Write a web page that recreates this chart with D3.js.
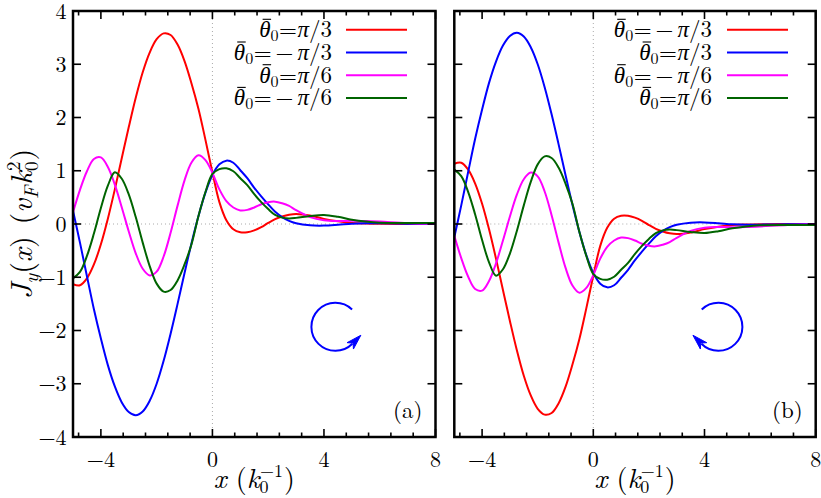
<!DOCTYPE html>
<html><head><meta charset="utf-8">
<script src="https://cdn.jsdelivr.net/npm/d3@7"></script>
<style>
body{margin:0;background:#fff}
svg{display:block}
</style>
</head><body>
<svg id="c" width="821" height="498"></svg>
<script>
// ---------- data ----------
const xValues = [-5,-4.75,-4.5,-4.25,-4,-3.75,-3.5,-3.25,-3,-2.75,-2.5,-2.25,-2,-1.75,-1.5,-1.25,-1,-0.75,-0.5,-0.25,0,0.25,0.5,0.75,1,1.25,1.5,1.75,2,2.25,2.5,2.75,3,3.5,4,4.5,5,5.5,6,7,8];

// panel (a)
const redA     = [-1.13,-1.15,-1.02,-0.76,-0.38,0.10,0.65,1.24,1.82,2.37,2.85,3.22,3.47,3.58,3.55,3.37,3.06,2.64,2.16,1.58,0.97,0.41,0.07,-0.10,-0.155,-0.155,-0.12,-0.06,0.02,0.09,0.14,0.175,0.19,0.16,0.095,0.05,0.02,0.01,0.005,0,0];
const blueA    = [0.25,-0.35,-0.98,-1.60,-2.15,-2.65,-3.05,-3.35,-3.53,-3.59,-3.52,-3.32,-3.00,-2.57,-2.06,-1.50,-0.92,-0.36,0.15,0.59,0.92,1.12,1.19,1.15,1.01,0.86,0.68,0.52,0.37,0.23,0.13,0.06,0.015,-0.025,-0.03,-0.015,0.005,0.012,0.012,0.005,0];
const magentaA = [0.22,0.64,0.99,1.22,1.25,1.07,0.74,0.31,-0.14,-0.55,-0.84,-0.965,-0.895,-0.61,-0.165,0.345,0.82,1.155,1.29,1.2,0.96,0.65,0.43,0.31,0.255,0.265,0.31,0.37,0.41,0.42,0.39,0.34,0.26,0.13,0.07,0.055,0.06,0.055,0.045,0.02,0.005];
const greenA   = [-1.02,-0.90,-0.60,-0.18,0.30,0.72,0.97,0.85,0.555,0.13,-0.35,-0.79,-1.12,-1.27,-1.24,-1.06,-0.76,-0.38,0.15,0.60,0.94,1.03,1.045,0.99,0.86,0.73,0.56,0.41,0.28,0.17,0.12,0.105,0.115,0.15,0.17,0.135,0.08,0.045,0.025,0.02,0.02];

// panel (b)
const redB     = [1.13,1.15,1.02,0.76,0.38,-0.10,-0.65,-1.24,-1.82,-2.37,-2.85,-3.22,-3.47,-3.58,-3.55,-3.37,-3.06,-2.64,-2.16,-1.58,-0.97,-0.41,-0.07,0.10,0.155,0.155,0.12,0.06,-0.02,-0.09,-0.14,-0.175,-0.19,-0.16,-0.095,-0.05,-0.02,-0.01,-0.005,0,0];
const blueB    = [-0.25,0.35,0.98,1.60,2.15,2.65,3.05,3.35,3.53,3.59,3.52,3.32,3.00,2.57,2.06,1.50,0.92,0.36,-0.15,-0.59,-0.92,-1.12,-1.19,-1.15,-1.01,-0.86,-0.68,-0.52,-0.37,-0.23,-0.13,-0.06,-0.015,0.025,0.03,0.015,-0.005,-0.012,-0.012,-0.005,0];
const magentaB = [-0.22,-0.64,-0.99,-1.22,-1.25,-1.07,-0.74,-0.31,0.14,0.55,0.84,0.965,0.895,0.61,0.165,-0.345,-0.82,-1.155,-1.29,-1.2,-0.96,-0.65,-0.43,-0.31,-0.255,-0.265,-0.31,-0.37,-0.41,-0.42,-0.39,-0.34,-0.26,-0.13,-0.07,-0.055,-0.06,-0.055,-0.045,-0.02,-0.005];
const greenB   = [1.02,0.90,0.60,0.18,-0.30,-0.72,-0.97,-0.85,-0.555,-0.13,0.35,0.79,1.12,1.27,1.24,1.06,0.76,0.38,-0.15,-0.60,-0.94,-1.03,-1.045,-0.99,-0.86,-0.73,-0.56,-0.41,-0.28,-0.17,-0.12,-0.105,-0.115,-0.15,-0.17,-0.135,-0.08,-0.045,-0.025,-0.02,-0.02];

const seriesColors = ["#ff0000","#0000ff","#ff00ff","#006400"];
const legendA = ["π/3","−π/3","π/6","−π/6"];
const legendB = ["−π/3","π/3","−π/6","π/6"];
const xTickLabels = [-4,0,4,8];
const yTickLabels = [-4,-3,-2,-1,0,1,2,3,4];
const panelTags = ["(a)","(b)"];

// ---------- drawing ----------
const FONT = "Latin Modern Roman";
const GREEK = "Liberation Serif";
const svg = d3.select("#c");
const TOP = 11, BOTTOM = 437;
const y = d3.scaleLinear().domain([-4,4]).range([BOTTOM,TOP]);

const panels = [
  {x0:73,   x1:435.5, series:[redA,blueA,magentaA,greenA], legend:legendA, tag:panelTags[0], yLabels:true,  ccw:true,  arrowAt:[4.41,-1.93], legRight:332, legLine:346},
  {x0:454.3,x1:815.7, series:[redB,blueB,magentaB,greenB], legend:legendB, tag:panelTags[1], yLabels:false, ccw:false, arrowAt:[4.5,-1.93],  legRight:712, legLine:727}
];

// parts: {t, i (italic), off (px baseline offset, + = down), fs (size), dx, ff}
function rich(sel, parts){
  let shift = 0;
  parts.forEach(p=>{
    const target = p.off || 0;
    const ts = sel.append("tspan").text(p.t);
    if (target-shift !== 0) ts.attr("dy", target-shift);
    if (p.dx) ts.attr("dx", p.dx);
    if (p.fs) ts.attr("font-size", p.fs);
    if (p.i) ts.attr("font-style","italic");
    if (p.ff) ts.attr("font-family", p.ff);
    shift = target;
  });
}

function legendParts(lbl){
  const neg = lbl.startsWith("−");
  const rest = neg ? lbl.slice(1) : lbl;
  const parts = [{t:"θ", i:true, ff:GREEK},{t:"0",off:4,fs:16},{t:"=",dx:0.5}];
  if (neg) parts.push({t:"−",dx:4});
  parts.push({t:"π", i:true, ff:GREEK, dx: neg?4:0.5},{t:rest.slice(1)});
  return parts;
}

function numLabel(v){ return v<0 ? "−"+Math.abs(v) : String(v); }

panels.forEach((P,pi)=>{
  const x = d3.scaleLinear().domain([-5,8]).range([P.x0,P.x1]);
  const g = svg.append("g");
  const clipId = "clip"+pi;
  svg.append("clipPath").attr("id",clipId).append("rect")
    .attr("x",P.x0).attr("y",TOP).attr("width",P.x1-P.x0).attr("height",BOTTOM-TOP);

  // zero lines
  g.append("line").attr("x1",x(0)).attr("x2",x(0)).attr("y1",TOP).attr("y2",BOTTOM)
    .attr("stroke","#aaa").attr("stroke-width",1).attr("stroke-dasharray","1,3");
  g.append("line").attr("x1",P.x0).attr("x2",P.x1).attr("y1",y(0)).attr("y2",y(0))
    .attr("stroke","#aaa").attr("stroke-width",1).attr("stroke-dasharray","1,3");

  // curves
  const line = d3.line().x((d,i)=>x(xValues[i])).y(d=>y(d)).curve(d3.curveCatmullRom.alpha(0.5));
  const cg = g.append("g").attr("clip-path",`url(#${clipId})`);
  P.series.forEach((s,si)=>{
    cg.append("path").attr("d",line(s)).attr("fill","none")
      .attr("stroke",seriesColors[si]).attr("stroke-width",2);
  });

  // ticks
  const minor = d3.range(-4.8, 8.01, 0.8);
  minor.forEach(v=>{
    const major = xTickLabels.some(t=>Math.abs(t-v)<1e-6);
    const L = major ? 8 : 4.5;
    g.append("line").attr("x1",x(v)).attr("x2",x(v)).attr("y1",BOTTOM).attr("y2",BOTTOM-L).attr("stroke","#000").attr("stroke-width",1.6);
    g.append("line").attr("x1",x(v)).attr("x2",x(v)).attr("y1",TOP).attr("y2",TOP+L).attr("stroke","#000").attr("stroke-width",1.6);
  });
  yTickLabels.forEach(v=>{
    g.append("line").attr("x1",P.x0).attr("x2",P.x0+8).attr("y1",y(v)).attr("y2",y(v)).attr("stroke","#000").attr("stroke-width",1.6);
    g.append("line").attr("x1",P.x1).attr("x2",P.x1-8).attr("y1",y(v)).attr("y2",y(v)).attr("stroke","#000").attr("stroke-width",1.6);
  });

  // frame
  g.append("rect").attr("x",P.x0).attr("y",TOP).attr("width",P.x1-P.x0).attr("height",BOTTOM-TOP)
    .attr("fill","none").attr("stroke","#000").attr("stroke-width",2.5);

  // tick labels
  xTickLabels.forEach(v=>{
    g.append("text").attr("font-family",FONT).attr("x",x(v)).attr("y",467).attr("text-anchor","middle")
      .attr("font-size",22).text(numLabel(v));
  });
  if (P.yLabels){
    yTickLabels.forEach(v=>{
      g.append("text").attr("font-family",FONT).attr("x",P.x0-6.5).attr("y",y(v)+7.5).attr("text-anchor","end")
        .attr("font-size",22).text(numLabel(v));
    });
  }

  // x label
  const xl = g.append("text").attr("font-family",FONT).attr("x",(P.x0+P.x1)/2).attr("y",488).attr("text-anchor","middle").attr("font-size",28);
  rich(xl,[{t:"x",i:true},{t:" ("},{t:"k",i:true},{t:"0",off:5,fs:18},{t:"−1",off:-11,fs:18,dx:-8.5},{t:")",dx:1}]);

  // legend
  const rows = [29.8,52.5,75.2,97.9];
  P.legend.forEach((lbl,li)=>{
    const base = rows[li]+7.5;
    const t = g.append("text").attr("font-family",FONT).attr("x",P.legRight).attr("y",base)
      .attr("text-anchor","end").attr("font-size",23);
    rich(t, legendParts(lbl));
    // bar over theta
    const ext = t.node().getExtentOfChar(0);
    g.append("line").attr("x1",ext.x+ext.width*0.3).attr("x2",ext.x+ext.width*1.05)
      .attr("y1",base-18).attr("y2",base-18).attr("stroke","#000").attr("stroke-width",1.1);
    g.append("line").attr("x1",P.legLine).attr("x2",P.legLine+61).attr("y1",rows[li]).attr("y2",rows[li])
      .attr("stroke",seriesColors[li]).attr("stroke-width",2);
  });

  // panel tag
  g.append("text").attr("font-family",FONT).attr("x",P.x1-13).attr("y",418).attr("text-anchor","end").attr("font-size",23).text(P.tag);

  // rotation arrow
  const cx = x(P.arrowAt[0]), cy = y(P.arrowAt[1]), r = 24;
  const deg = Math.PI/180;
  let a0, a1;
  if (P.ccw){ a0 = -46*deg; a1 = -315*deg; } else { a0 = -134*deg; a1 = 135*deg; }
  const p = d3.path();
  p.arc(cx, cy, r, a0, a1, P.ccw);
  g.append("path").attr("d",p.toString()).attr("fill","none").attr("stroke","#0000ff").attr("stroke-width",2);
  const ex = cx + r*Math.cos(a1), ey = cy + r*Math.sin(a1);
  const dir = P.ccw ? [Math.sin(a1), -Math.cos(a1)] : [-Math.sin(a1), Math.cos(a1)];
  const nrm = [-dir[1], dir[0]];
  const Lh = 15, Wh = 4.5;
  const bx = ex - dir[0]*3, by = ey - dir[1]*3;
  const tip = [bx + dir[0]*Lh, by + dir[1]*Lh];
  g.append("path").attr("d",`M${tip[0]},${tip[1]}L${bx+nrm[0]*Wh},${by+nrm[1]*Wh}L${bx+dir[0]*4},${by+dir[1]*4}L${bx-nrm[0]*Wh},${by-nrm[1]*Wh}Z`)
    .attr("fill","#0000ff").attr("stroke","#0000ff").attr("stroke-width",1);
});

// y label (shared, left)
const yl = svg.append("text").attr("font-family",FONT).attr("transform","translate(32,224) rotate(-90)").attr("text-anchor","middle").attr("font-size",30);
rich(yl,[{t:"J",i:true},{t:"y",i:true,off:6,fs:20},{t:"("},{t:"x",i:true},{t:")"},{t:" (",dx:2},{t:"v",i:true},{t:"F",i:true,off:6,fs:20},{t:"k",i:true,dx:1},{t:"0",off:6,fs:19},{t:"2",off:-12,fs:19,dx:-9.5},{t:")",dx:1}]);
</script>
</body></html>
